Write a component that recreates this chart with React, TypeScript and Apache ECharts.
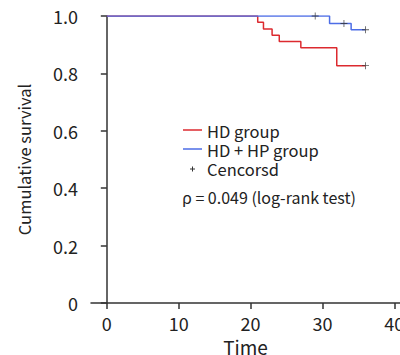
import React, { useEffect, useRef } from "react";
import * as echarts from "echarts";

const hdTime = [0, 21, 21.8, 23, 24, 27, 32, 36];
const hdSurv = [1, 0.978, 0.955, 0.933, 0.911, 0.889, 0.827, 0.827];
const hdhpTime = [0, 31, 34, 36];
const hdhpSurv = [1, 0.974, 0.952, 0.952];
const censorTime = [29, 33, 36, 36];
const censorSurv = [1, 0.974, 0.952, 0.827];
const xTicks = [0, 10, 20, 30, 40];
const seriesNames = ["HD group", "HD + HP group", "Cencorsd"];
const pText = "\u03c1 = 0.049 (log-rank test)";

const FONT = "Noto Sans CJK SC";
const RED = "#dc2a2f";
const BLUE = "#4d6de6";
const DARK = "#333";
const plusPath = "path://M-0.6,-5h1.2v10h-1.2z M-5,-0.6h10v1.2h-10z";

export default function App() {
  const ref = useRef<HTMLDivElement>(null);
  useEffect(() => {
    document.body.style.margin = "0";
    const chart = echarts.init(ref.current!, null, { renderer: "svg" });
    const zip = (a: number[], b: number[]) => a.map((v, i) => [v, b[i]]);
    const legendText = (text: string, y: number) => ({
      type: "text",
      x: 207,
      y,
      style: { text, fontSize: 16.5, fill: "#222", fontFamily: FONT, verticalAlign: "middle" },
    });
    chart.setOption({
      animation: false,
      textStyle: { fontFamily: FONT },
      grid: { left: 91, right: 0, top: 16, bottom: 52, containLabel: false, outerBoundsMode: "none" },
      xAxis: {
        type: "value",
        min: -2.2,
        max: 40.8,
        name: "Time",
        nameLocation: "middle",
        nameGap: 34,
        nameTextStyle: { fontSize: 19, color: "#222", fontFamily: FONT },
        axisLine: { show: true, lineStyle: { color: DARK, width: 1.5 } },
        axisTick: { show: true, length: 6, customValues: xTicks, lineStyle: { color: DARK, width: 1.5 } },
        axisLabel: { customValues: xTicks, fontSize: 18, color: "#222", margin: 11, fontFamily: FONT },
        splitLine: { show: false },
      },
      yAxis: {
        type: "value",
        min: 0,
        max: 1,
        interval: 0.2,
        name: "Cumulative survival",
        nameLocation: "middle",
        nameGap: 59,
        nameTextStyle: { fontSize: 16.5, color: "#222", fontFamily: FONT },
        axisLine: { show: true, lineStyle: { color: DARK, width: 1.5 } },
        axisTick: { show: true, length: 6, lineStyle: { color: DARK, width: 1.5 } },
        axisLabel: {
          fontSize: 18,
          color: "#222",
          margin: 13,
          fontFamily: FONT,
          formatter: (v: number) => (v === 0 ? "0" : v.toFixed(1)),
        },
        splitLine: { show: false },
      },
      graphic: [
        { type: "line", shape: { x1: 183, y1: 130, x2: 202, y2: 130 }, style: { stroke: RED, lineWidth: 1.5 } },
        legendText(seriesNames[0], 131),
        { type: "line", shape: { x1: 183, y1: 149, x2: 202, y2: 149 }, style: { stroke: BLUE, lineWidth: 1.5 } },
        legendText(seriesNames[1], 150),
        { type: "line", shape: { x1: 190, y1: 169, x2: 195, y2: 169 }, style: { stroke: DARK, lineWidth: 1 } },
        { type: "line", shape: { x1: 192.5, y1: 166.5, x2: 192.5, y2: 171.5 }, style: { stroke: DARK, lineWidth: 1 } },
        legendText(seriesNames[2], 169),
        {
          type: "text",
          x: 182,
          y: 197,
          style: { text: pText, fontSize: 16, fill: "#222", fontFamily: FONT, verticalAlign: "middle" },
        },
      ],
      series: [
        {
          name: seriesNames[0],
          type: "line",
          step: "end",
          symbol: "none",
          data: zip(hdTime, hdSurv),
          lineStyle: { color: RED, width: 1.5 },
          itemStyle: { color: RED },
        },
        {
          name: seriesNames[1],
          type: "line",
          step: "end",
          symbol: "none",
          data: zip(hdhpTime, hdhpSurv),
          lineStyle: { color: BLUE, width: 1.5 },
          itemStyle: { color: BLUE },
        },
        {
          name: seriesNames[2],
          type: "scatter",
          symbol: plusPath,
          symbolSize: 7,
          data: zip(censorTime, censorSurv),
          itemStyle: { color: DARK },
          z: 5,
        },
      ],
    });
    return () => chart.dispose();
  }, []);
  return <div ref={ref} style={{ position: "absolute", left: 0, top: 0, width: 400, height: 355 }} />;
}
